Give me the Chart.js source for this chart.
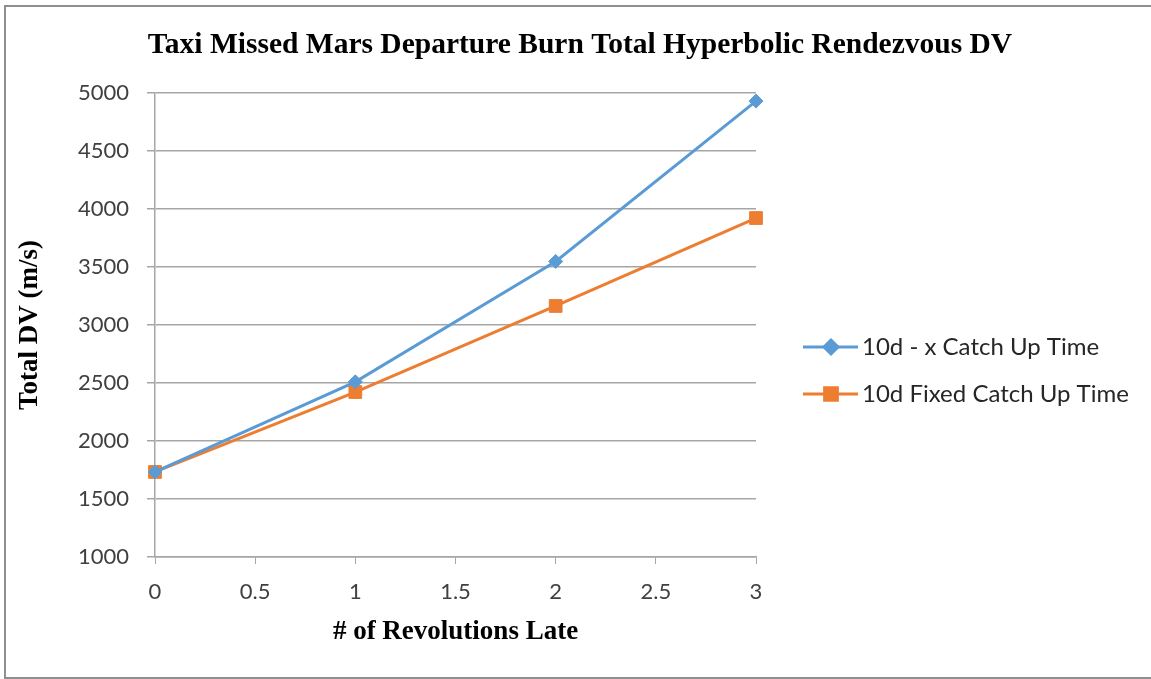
<!DOCTYPE html>
<html>
<head>
<meta charset="utf-8">
<script src="https://cdn.jsdelivr.net/npm/chart.js@4"></script>
<style>
  html, body { margin: 0; padding: 0; background: #fff; }
  #wrap { width: 1151px; height: 679px; position: relative; }
</style>
</head>
<body>
<div id="wrap"><canvas id="dv-chart"></canvas></div>
<script>
// data
const revsLate = [0, 1, 2, 3];
const shrinkingCatchUp = [1733, 2510, 3548, 4930];   // 10d - x Catch Up Time
const fixedCatchUp = [1733, 2422, 3164, 3922];       // 10d Fixed Catch Up Time
const seriesNames = ["10d - x Catch Up Time", "10d Fixed Catch Up Time"];
const seriesColors = ["#5b9bd5", "#ed7d31"];
const seriesMarkers = ["rectRot", "rect"];
const markerSizes = [7, 9];
const chartTitle = "Taxi Missed Mars Departure Burn Total Hyperbolic Rendezvous DV";

const tickFont = { family: "Lato", size: 22 };
const serifBold = { family: "Liberation Serif", weight: "bold" };

// grey frame around the whole chart + title centred on the full canvas
const frame = {
  id: 'frame',
  afterDraw(chart) {
    const ctx = chart.ctx;
    ctx.save();
    ctx.strokeStyle = '#8f8f8f';
    ctx.lineWidth = 2;
    ctx.strokeRect(5, 6, chart.width + 10, chart.height - 7);
    ctx.fillStyle = '#000';
    ctx.font = 'bold 29.5px "Liberation Serif"';
    ctx.textAlign = 'center';
    ctx.textBaseline = 'middle';
    ctx.fillText(chartTitle, 580, 45);
    ctx.restore();
  }
};

// legend drawn as line + marker like Excel
const sideLegend = {
  id: 'sideLegend',
  afterDraw(chart) {
    const ctx = chart.ctx;
    const x0 = chart.chartArea.right + 47;
    chart.data.datasets.forEach((ds, i) => {
      const y = 347 + i * 47;
      ctx.save();
      ctx.strokeStyle = ds.borderColor;
      ctx.lineWidth = 3;
      ctx.beginPath();
      ctx.moveTo(x0, y);
      ctx.lineTo(x0 + 55, y);
      ctx.stroke();
      ctx.fillStyle = ds.borderColor;
      Chart.helpers.drawPoint(ctx, {
        pointStyle: ds.pointStyle, radius: ds.pointRadius, borderWidth: 1
      }, x0 + 28, y);
      ctx.fillStyle = '#262626';
      ctx.font = '24px Lato';
      ctx.textAlign = 'left';
      ctx.textBaseline = 'middle';
      ctx.fillText(ds.label, x0 + 59, y);
      ctx.restore();
    });
  }
};

function makeSet(i, values) {
  return {
    label: seriesNames[i],
    data: revsLate.map((r, k) => ({ x: r, y: values[k] })),
    borderColor: seriesColors[i],
    backgroundColor: seriesColors[i],
    borderWidth: 3,
    pointStyle: seriesMarkers[i],
    pointRadius: markerSizes[i],
    pointBorderWidth: 1,
    tension: 0,
    clip: false
  };
}

new Chart(document.getElementById("dv-chart"), {
  type: 'line',
  data: {
    datasets: [makeSet(0, shrinkingCatchUp), makeSet(1, fixedCatchUp)]
  },
  options: {
    responsive: true,
    maintainAspectRatio: false,
    animation: false,
    layout: { padding: { left: 14, right: 395, top: 93, bottom: 0 } },
    plugins: {
      legend: { display: false },
      tooltip: { enabled: false },
      title: { display: false }
    },
    scales: {
      x: {
        type: 'linear',
        min: 0,
        max: 3,
        ticks: { stepSize: 0.5, color: '#404040', font: tickFont, padding: 15,
                 callback: v => String(v) },
        grid: { drawOnChartArea: false, drawTicks: true, tickLength: 7, color: '#a6a6a6' },
        border: { color: '#a6a6a6', width: 1.5 },
        title: {
          display: true,
          text: "# of Revolutions Late",
          color: '#000',
          font: Object.assign({ size: 27 }, serifBold),
          padding: { top: 0, bottom: 31 }
        },
        afterFit(scale) { scale.height = 122; }
      },
      y: {
        min: 1000,
        max: 5000,
        ticks: { stepSize: 500, color: '#404040', font: tickFont, padding: 18,
                 callback: v => String(v) },
        grid: { color: '#a6a6a6', lineWidth: 1.5, tickLength: 8 },
        border: { color: '#a6a6a6', width: 1.5 },
        title: {
          display: true,
          text: "Total DV (m/s)",
          color: '#000',
          font: Object.assign({ size: 27 }, serifBold),
          padding: { top: 0, bottom: 0 }
        },
        afterFit(scale) { scale.width = 141; }
      }
    }
  },
  plugins: [frame, sideLegend]
});
</script>
</body>
</html>
